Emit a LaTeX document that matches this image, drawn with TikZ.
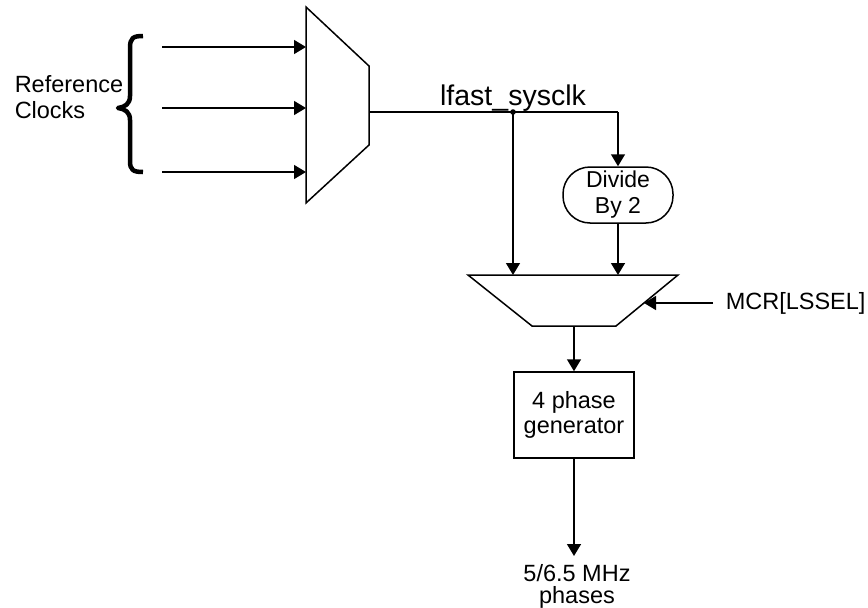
\documentclass[tikz,border=0pt]{standalone}
\usepackage{fontspec}
\setmainfont{Liberation Sans}
\usetikzlibrary{arrows.meta}
\begin{document}
\begin{tikzpicture}[x=1pt,y=-1pt,
  line width=1.5pt,
  arr/.style={-{Triangle[length=12pt,width=14pt]}},
  lbl/.style={font=\fontsize{23.5}{26}\selectfont, inner sep=0pt, align=center},
  bigl/.style={font=\fontsize{28.5}{32}\selectfont, inner sep=0pt},
  divbox/.style={draw, rounded corners=27pt, minimum width=110pt, minimum height=56pt, inner sep=0pt, align=center, font=\fontsize{23}{26}\selectfont},
  genbox/.style={draw, minimum width=120pt, minimum height=86pt, inner sep=0pt, align=center, font=\fontsize{23.5}{25}\selectfont},
  brace/.style={line width=4.5pt, line cap=butt, line join=round}
]
\useasboundingbox (0,0) rectangle (868,608);

% first multiplexer
\coordinate (m1tl) at (306,7);
\coordinate (m1tr) at (369,66);
\coordinate (m1br) at (369,145);
\coordinate (m1bl) at (306,203);
\draw (m1tl) -- (m1tr) -- (m1br) -- (m1bl) -- cycle;
\coordinate (m1out) at (369,112);

% inputs
\coordinate (i1) at (162,47);  \coordinate (e1) at (306,47);
\coordinate (i2) at (162,108); \coordinate (e2) at (306,108);
\coordinate (i3) at (162,172); \coordinate (e3) at (306,172);
\draw[arr] (i1) -- (e1);
\draw[arr] (i2) -- (e2);
\draw[arr] (i3) -- (e3);

% brace
\draw[brace] (143,36) .. controls (133,36) and (130,38) .. (130,48) -- (130,96)
  .. controls (130,104) and (125,107) .. (118,108)
  .. controls (125,109) and (130,112) .. (130,120) -- (130,161)
  .. controls (130,170) and (133,172) .. (143,172);

\node[lbl, align=left, anchor=west] (refclk) at (14,97) {Reference\\Clocks};

% fast clock line
\coordinate (jn) at (513,112);
\coordinate (corner) at (618,112);
\node[bigl, anchor=base] (fastlbl) at (513,105) {lfast\_sysclk};

% divide by 2
\node[divbox] (div) at (618,195) {Divide\\By 2};

% second multiplexer
\coordinate (m2tl) at (468,275);
\coordinate (m2tr) at (678,275);
\coordinate (m2br) at (616,326);
\coordinate (m2bl) at (532,326);
\draw (m2tl) -- (m2tr) -- (m2br) -- (m2bl) -- cycle;
\coordinate (m2in1) at (513,275);
\coordinate (m2in2) at (618,275);
\coordinate (m2sel) at (644,303);
\coordinate (m2out) at (574,326);

\draw (m1out) -- (corner);
\draw[arr] (corner) -- (div.north);
\draw[arr] (jn) -- (m2in1);
\draw[arr] (div.south) -- (m2in2);
\fill (jn) circle (2.8pt);

% select
\node[lbl, anchor=west] (mcr) at (725,303) {MCR[LSSEL]};
\coordinate (mcrs) at (713,303);
\draw[arr] (mcrs) -- (m2sel);

% phase generator
\node[genbox] (gen) at (574,415) {4 phase\\generator};
\draw[arr] (m2out) -- (gen.north);

\node[font=\fontsize{23.5}{22}\selectfont, inner sep=0pt, align=center, anchor=north] (outlbl) at (577,564) {5/6.5 MHz\\phases};
\coordinate (outtip) at (574,556);
\draw[arr] (gen.south) -- (outtip);
\end{tikzpicture}
\end{document}
